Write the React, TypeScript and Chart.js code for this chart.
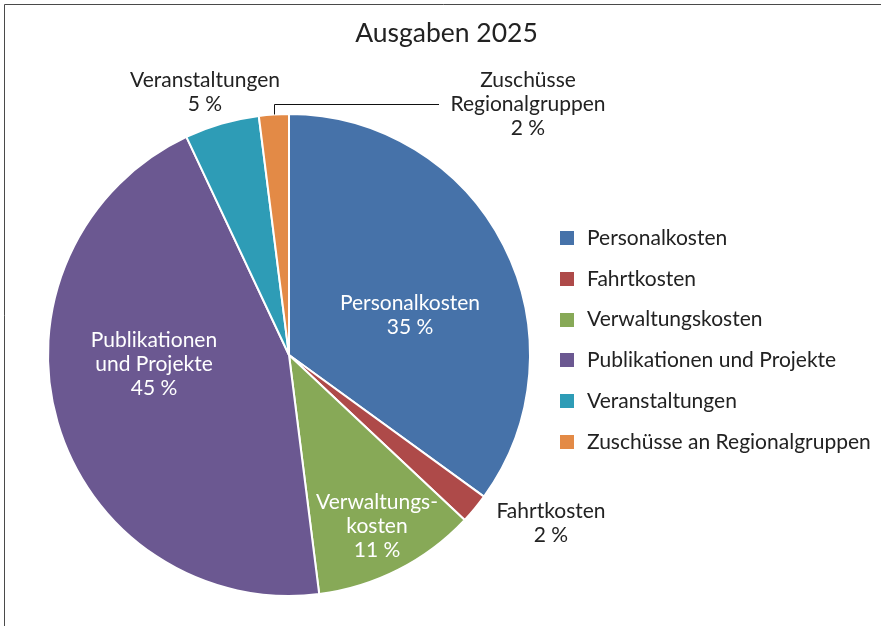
import React, { useEffect, useRef } from "react";
import { Chart, registerables } from "chart.js";

Chart.register(...registerables);

const chartTitle = "Ausgaben 2025";
const categories = [
  "Personalkosten",
  "Fahrtkosten",
  "Verwaltungskosten",
  "Publikationen und Projekte",
  "Veranstaltungen",
  "Zuschüsse an Regionalgruppen",
];
const shares = [35, 2, 11, 45, 5, 2];
const sliceTexts = [
  ["Personalkosten"],
  ["Fahrtkosten"],
  ["Verwaltungs-", "kosten"],
  ["Publikationen", "und Projekte"],
  ["Veranstaltungen"],
  ["Zuschüsse", "Regionalgruppen"],
];
const colors = ["#4672A9", "#AE4A49", "#87A957", "#6B5891", "#2E9CB6", "#E38A46"];

// label placement relative to pie centre (px), inside = white text
const labelPlacement = [
  { dx: 121, dy: -40, inside: true },
  { dx: 262, dy: 168, inside: false },
  { dx: 88, dy: 171, inside: true },
  { dx: -135, dy: 9, inside: true },
  { dx: -84, dy: -263, inside: false },
  { dx: 239, dy: -251, inside: false, leader: true },
];

const FONT = "Lato, 'Open Sans', sans-serif";

export default function App() {
  const ref = useRef<HTMLCanvasElement | null>(null);

  useEffect(() => {
    if (!ref.current) return;
    const decor = {
      id: "decor",
      afterDraw(chart: any) {
        const ctx = chart.ctx;
        const meta = chart.getDatasetMeta(0);
        const arc0 = meta.data[0];
        const cx = arc0.x;
        const cy = arc0.y;
        ctx.save();
        // frame
        ctx.strokeStyle = "#4a4a4a";
        ctx.lineWidth = 1;
        ctx.beginPath();
        ctx.moveTo(4.5, 700);
        ctx.lineTo(4.5, 4.5);
        ctx.lineTo(1000, 4.5);
        ctx.stroke();
        // title
        ctx.fillStyle = "#222";
        ctx.font = `26.5px ${FONT}`;
        ctx.textAlign = "center";
        ctx.textBaseline = "middle";
        ctx.fillText(chartTitle, 446.5, 33);
        // slice labels
        ctx.font = `21px ${FONT}`;
        meta.data.forEach((arc: any, i: number) => {
          const p = labelPlacement[i];
          const lines = [...sliceTexts[i], `${shares[i]}\u202F%`];
          const lh = 24;
          const x = cx + p.dx;
          const y0 = cy + p.dy - ((lines.length - 1) * lh) / 2;
          ctx.fillStyle = p.inside ? "#ffffff" : "#222222";
          lines.forEach((t, k) => ctx.fillText(t, x, y0 + k * lh));
          if (p.leader) {
            const mid = (arc.startAngle + arc.endAngle) / 2;
            const ax = Math.round(cx + Math.cos(mid) * arc.outerRadius) + 0.5;
            const ay = cy + Math.sin(mid) * arc.outerRadius;
            const ly = Math.round(cy - 251) + 0.5;
            ctx.strokeStyle = "#111";
            ctx.lineWidth = 1;
            ctx.beginPath();
            ctx.moveTo(ax, ay);
            ctx.lineTo(ax, ly);
            ctx.lineTo(x - 89, ly);
            ctx.stroke();
          }
        });
        // legend
        ctx.textAlign = "left";
        ctx.font = `21px ${FONT}`;
        categories.forEach((c, i) => {
          const y = 238 + i * 40.8;
          ctx.fillStyle = colors[i];
          ctx.fillRect(560, Math.round(y - 7), 14, 14);
          ctx.fillStyle = "#222";
          ctx.fillText(c, 587, y);
        });
        ctx.restore();
      },
    };
    const chart = new Chart(ref.current, {
      type: "pie",
      data: {
        labels: categories,
        datasets: [
          {
            data: shares,
            backgroundColor: colors,
            borderColor: "#ffffff",
            borderWidth: 2,
          },
        ],
      },
      options: {
        responsive: false,
        animation: false,
        devicePixelRatio: 1,
        layout: { padding: { left: 47, right: 350, top: 112, bottom: 28 } },
        plugins: {
          legend: { display: false },
          title: { display: false },
          tooltip: { enabled: false },
        },
      },
      plugins: [decor],
    });
    return () => chart.destroy();
  }, []);

  return (
    <div style={{ position: "fixed", left: 0, top: 0, width: 881, height: 626, background: "#fff" }}>
      <canvas ref={ref} width={881} height={626} style={{ width: 881, height: 626 }} />
    </div>
  );
}
